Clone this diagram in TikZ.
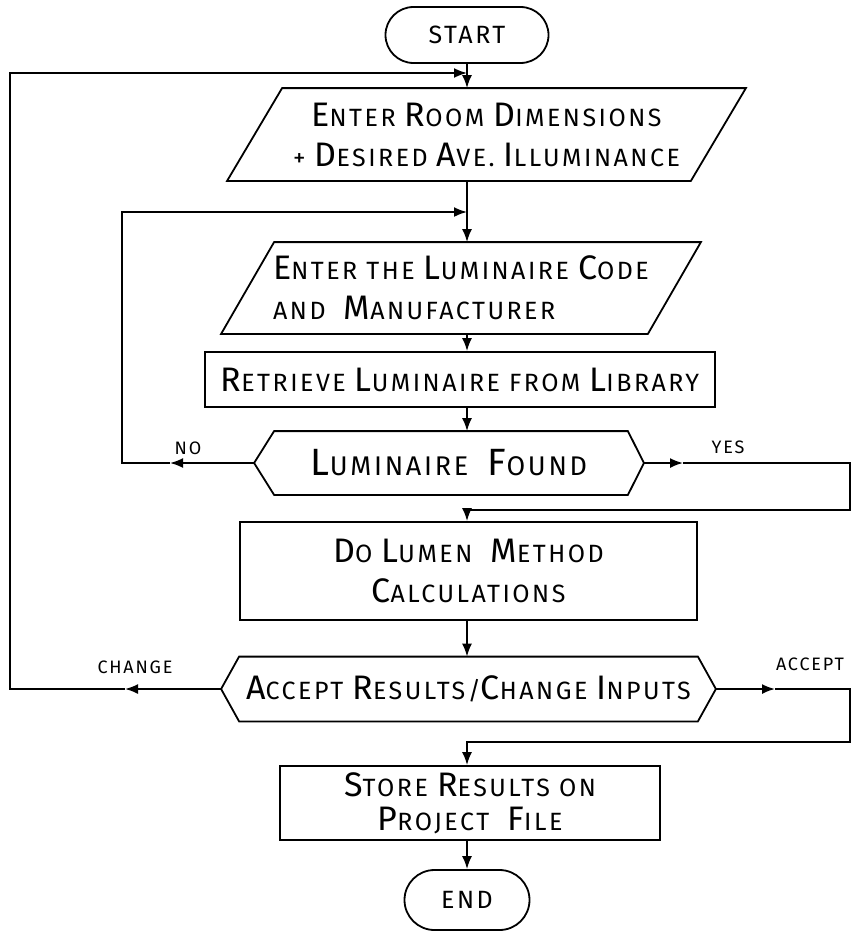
\documentclass[tikz,border=0pt]{standalone}
\usepackage{fontspec}
\setmainfont{Fira Sans}[LetterSpace=10]
\usetikzlibrary{arrows.meta,shapes.misc}
\newcommand\Ini[1]{{\fontsize{34}{40}\selectfont #1}}
\newcommand\BigIni[1]{{\fontsize{38}{44}\selectfont #1}}
\begin{document}
\begin{tikzpicture}[x=1pt,y=-1pt, line width=1.8pt,
  >={Latex[length=13pt,width=10pt]},
  txt/.style={font=\fontsize{25}{40}\selectfont, align=center, inner sep=0pt},
  term/.style={draw, rounded rectangle, minimum height=56pt, txt},
  procbox/.style={draw, txt},
  shapebox/.style={txt},
  lab/.style={font=\fontsize{18}{20}\selectfont, inner sep=0pt}
]
\useasboundingbox (0,0) rectangle (855,934);

% nodes
\node[term, minimum width=163pt] (start) at (467,35) {START};
\node[shapebox, minimum width=517pt, minimum height=91pt] (p1) at (486.5,134.5)
  {\Ini{E}NTER \Ini{R}OOM \Ini{D}IMENSIONS\\+ \Ini{D}ESIRED \Ini{A}VE. \Ini{I}LLUMINANCE};
\node[shapebox, minimum width=478pt, minimum height=90pt, align=left] (p2) at (461,288)
  {\Ini{E}NTER THE \Ini{L}UMINAIRE \Ini{C}ODE\\AND \ \Ini{M}ANUFACTURER};
\node[procbox, minimum width=510pt, minimum height=55pt] (r1) at (460,379.5)
  {\Ini{R}ETRIEVE \Ini{L}UMINAIRE FROM \Ini{L}IBRARY};
\node[shapebox, minimum width=388pt, minimum height=62pt, font=\fontsize{27}{40}\selectfont] (h1) at (449,463)
  {\BigIni{L}UMINAIRE \ \BigIni{F}OUND};
\node[procbox, minimum width=457pt, minimum height=98pt] (b1) at (468.5,571)
  {\Ini{D}O \Ini{L}UMEN \ \Ini{M}ETHOD\\\Ini{C}ALCULATIONS};
\node[shapebox, minimum width=493pt, minimum height=63pt] (h2) at (468.5,689)
  {\Ini{A}CCEPT \Ini{R}ESULTS/\Ini{C}HANGE \Ini{I}NPUTS};
\node[procbox, minimum width=380pt, minimum height=74pt, font=\fontsize{25}{34}\selectfont] (s1) at (470,803)
  {\Ini{S}TORE \Ini{R}ESULTS ON\\\Ini{P}ROJECT \ \Ini{F}ILE};
\node[term, minimum width=125pt, minimum height=60pt] (end) at (467,900) {END};

% outlines of parallelograms and hexagons
\draw ([xshift=55pt]p1.north west) -- (p1.north east) -- ([xshift=-55pt]p1.south east) -- (p1.south west) -- cycle;
\draw ([xshift=53pt]p2.north west) -- (p2.north east) -- ([xshift=-53pt]p2.south east) -- (p2.south west) -- cycle;
\draw (h1.west) -- ([xshift=20pt]h1.north west) -- ([xshift=-16pt]h1.north east) -- (h1.east)
  -- ([xshift=-16pt]h1.south east) -- ([xshift=20pt]h1.south west) -- cycle;
\draw (h2.west) -- ([xshift=18pt]h2.north west) -- ([xshift=-18pt]h2.north east) -- (h2.east)
  -- ([xshift=-18pt]h2.south east) -- ([xshift=18pt]h2.south west) -- cycle;

% main flow
\draw[->] (start.south) -- (start.south |- p1.north);
\draw[->] (start.south |- p1.south) -- (start.south |- p2.north);
\draw[->] (start.south |- p2.south) -- (start.south |- r1.north);
\draw[->] (start.south |- r1.south) -- (start.south |- h1.north);
\draw[->] (start.south |- b1.south) -- (start.south |- h2.north);
\draw[->] (start.south |- s1.south) -- (end.north);

% coordinates for loops
\coordinate (chg) at (125,689);
\coordinate (lc) at (10,689);
\coordinate (lt) at (10,73);
\coordinate (j1) at (467,73);
\coordinate (no) at (170,463);
\coordinate (ln) at (122,463);
\coordinate (lnt) at (122,212);
\coordinate (j2) at (467,212);
\coordinate (yes) at (683,463);
\coordinate (ry) at (850,463);
\coordinate (ryb) at (850,510);
\coordinate (j3) at (467,510);
\coordinate (acc) at (775,689);
\coordinate (ra) at (850,689);
\coordinate (rab) at (850,742);
\coordinate (j4) at (467,742);

\draw[->] (h2.west) -- (chg);
\draw[->] (chg) -- (lc) -- (lt) -- (j1);
\draw[->] (h1.west) -- (no);
\draw[->] (no) -- (ln) -- (lnt) -- (j2);
\draw[->] (h1.east) -- (yes);
\draw[->] (yes) -- (ry) -- (ryb) -- (j3) -- (j3 |- b1.north);
\draw[->] (h2.east) -- (acc);
\draw[->] (acc) -- (ra) -- (rab) -- (j4) -- (j4 |- s1.north);

% labels
\node[lab] (lno) at (188,448) {NO};
\node[lab] (lyes) at (728,447) {YES};
\node[lab] (lchg) at (135,667) {CHANGE};
\node[lab] (lacc) at (810,664) {ACCEPT};
\end{tikzpicture}
\end{document}
